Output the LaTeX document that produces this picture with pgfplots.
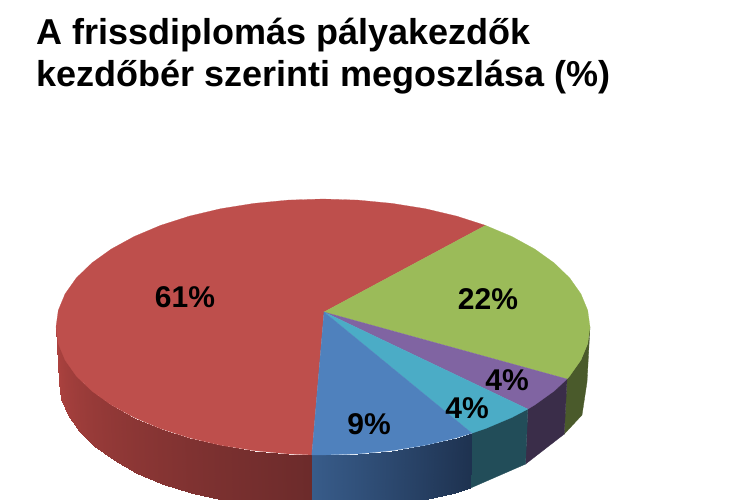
\documentclass[border=0pt]{standalone}
\usepackage{pgfplots}
\pgfplotsset{compat=1.18}
\usepackage{fontspec}
\setmainfont{Liberation Sans}
\definecolor{pred}{RGB}{190,79,76}
\definecolor{pgreen}{RGB}{155,187,89}
\definecolor{pblue}{RGB}{79,129,189}
\definecolor{pcyan}{RGB}{75,172,198}
\definecolor{ppurple}{RGB}{128,100,162}
\pgfplotsset{
    side/.style={fill=#1,draw=#1,line width=.3pt},
    top/.style={fill=#1,draw=#1,line width=.2pt},
    colormap={redside}{rgb255=(108,43,43) rgb255=(172,66,63)},
    colormap={blueside}{rgb255=(30,50,80) rgb255=(56,92,138)},
}
\begin{document}
\begin{tikzpicture}
\begin{axis}[
    width=750pt,height=500pt,scale only axis,
    xmin=0,xmax=750,ymin=0,ymax=500,
    y dir=reverse,
    axis line style={draw=none},
    ticks=none,
    clip=true,
    point meta min=0,point meta max=1,
]
% rim of the pie, outline, pixel coordinates
\addplot[side=pgreen!48!black] coordinates {(590,327)(587,382)(582,415)(564.2,434.1)(567,379)(580.9,360.1)(587.7,343.7)} --cycle;
\addplot[side=ppurple!45!black] coordinates {(567,379)(564.2,434.1)(525.5,464.1)(527.8,409.1)} --cycle;
\addplot[side=pcyan!45!black] coordinates {(527.8,409.1)(525.5,464.1)(470.2,488.2)(471.9,433.2)} --cycle;
\addplot[patch,patch type=rectangle,shader=interp,colormap name=blueside,point meta=explicit] coordinates {
(471.9,433.2)[0] (470.2,488.2)[0] (455,492.8)[.1] (456.5,437.9)[.1]
(456.5,437.9)[.1] (455,492.8)[.1] (424,500.3)[.31] (425.2,445.3)[.31]
(425.2,445.3)[.31] (424,500.3)[.31] (391.3,505.6)[.52] (392.1,450.6)[.52]
(392.1,450.6)[.52] (391.3,505.6)[.52] (357.5,508.9)[.73] (357.8,453.9)[.73]
(357.8,453.9)[.73] (357.5,508.9)[.73] (323,510)[.93] (323,455)[.93]
(323,455)[.93] (323,510)[.93] (311.9,509.9)[1] (311.8,454.9)[1]
};
\addplot[patch,patch type=rectangle,shader=interp,colormap name=redside,point meta=explicit] coordinates {
(311.8,454.9)[0] (311.9,509.9)[0] (288.5,508.9)[.06] (288.2,453.9)[.06]
(288.2,453.9)[.06] (288.5,508.9)[.06] (254.7,505.6)[.14] (253.9,450.6)[.14]
(253.9,450.6)[.14] (254.7,505.6)[.14] (222,500.3)[.22] (220.8,445.3)[.22]
(220.8,445.3)[.22] (222,500.3)[.22] (191,492.8)[.31] (189.5,437.9)[.31]
(189.5,437.9)[.31] (191,492.8)[.31] (162.3,483.6)[.4] (160.5,428.6)[.4]
(160.5,428.6)[.4] (162.3,483.6)[.4] (136.3,472.5)[.49] (134.2,417.5)[.49]
(134.2,417.5)[.49] (136.3,472.5)[.49] (113.6,459.9)[.58] (111.2,404.9)[.58]
(111.2,404.9)[.58] (113.6,459.9)[.58] (94.4,446)[.67] (91.8,391)[.67]
(91.8,391)[.67] (94.4,446)[.67] (79.1,431)[.77] (76.3,376)[.77]
(76.3,376)[.77] (79.1,431)[.77] (68,415.1)[.86] (65.1,360.1)[.86]
(65.1,360.1)[.86] (68,415.1)[.86] (61.3,398.7)[.95] (58.3,343.7)[.95]
(58.3,343.7)[.95] (61.3,398.7)[.95] (59,382)[1] (56,327)[1]
};
% top surface
\addplot[top=pred] coordinates {(324,312)(311.8,454.9)(288.2,453.9)(253.9,450.6)(220.8,445.3)(189.5,437.9)(160.5,428.6)(134.2,417.5)(111.2,404.9)(91.8,391)(76.3,376)(65.1,360.1)(58.3,343.7)(56,327)(58.3,310.3)(65.1,293.9)(76.3,278)(91.8,263)(111.2,249.1)(134.2,236.5)(160.5,225.4)(189.5,216.1)(220.8,208.7)(253.9,203.4)(288.2,200.1)(323,199)(357.8,200.1)(392.1,203.4)(425.2,208.7)(456.5,216.1)(485.5,225.4)} --cycle;
\addplot[top=pgreen] coordinates {(324,312)(485.5,225.4)(511.8,236.5)(534.8,249.1)(554.2,263)(569.7,278)(580.9,293.9)(587.7,310.3)(590,327)(587.7,343.7)(580.9,360.1)(569.7,376)(567,379)} --cycle;
\addplot[top=ppurple] coordinates {(324,312)(567,379)(554.2,391)(534.8,404.9)(527.8,409.1)} --cycle;
\addplot[top=pcyan] coordinates {(324,312)(527.8,409.1)(511.8,417.5)(485.5,428.6)(471.9,433.2)} --cycle;
\addplot[top=pblue] coordinates {(324,312)(471.9,433.2)(456.5,437.9)(425.2,445.3)(392.1,450.6)(357.8,453.9)(323,455)(311.8,454.9)} --cycle;
% share labels
\addplot[draw=none,mark=none,point meta=explicit symbolic,
    nodes near coords,
    nodes near coords style={anchor=center,text=black,inner sep=0pt,font=\fontsize{30}{32}\selectfont\bfseries},
] coordinates {(185,297)[61\%] (488,299)[22\%] (507,380)[4\%] (467,408)[4\%] (369,424)[9\%]};
\node[anchor=base west,inner sep=0pt,font=\fontsize{36}{40}\selectfont\bfseries] at (axis cs:36,45) {A frissdiplomás pályakezdők};
\node[anchor=base west,inner sep=0pt,font=\fontsize{36}{40}\selectfont\bfseries] at (axis cs:36,87) {kezdőbér szerinti megoszlása (\%)};
\end{axis}
\end{tikzpicture}
\end{document}
